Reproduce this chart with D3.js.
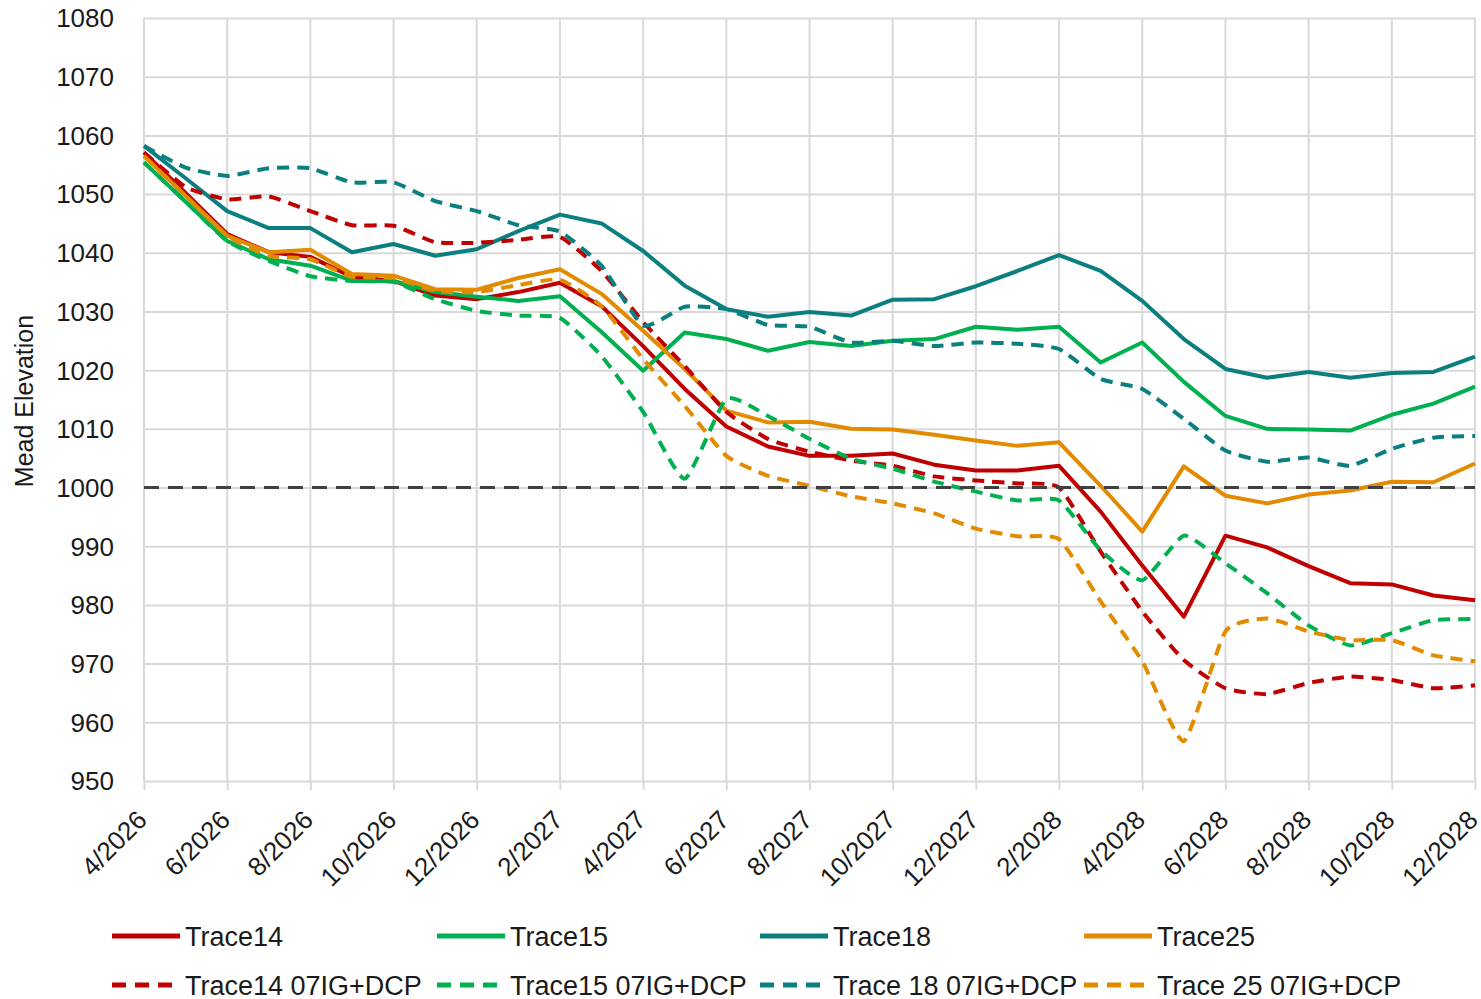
<!DOCTYPE html>
<html>
<head>
<meta charset="utf-8">
<script src="https://cdn.jsdelivr.net/npm/d3@7"></script>
<style>
  body { margin: 0; background: #fff; }
  text { font-family: "Liberation Sans", Arial, sans-serif; fill: #1a1a1a; }
</style>
</head>
<body>
<svg width="1481" height="999"></svg>
<script>
const width = 1481, height = 999;
const svg = d3.select("svg");

// months (4/2026 -> 12/2028)
const months = [
  "4/2026", "5/2026", "6/2026", "7/2026", "8/2026", "9/2026", "10/2026", "11/2026", "12/2026",
  "1/2027", "2/2027", "3/2027", "4/2027", "5/2027", "6/2027", "7/2027", "8/2027", "9/2027",
  "10/2027", "11/2027", "12/2027", "1/2028", "2/2028", "3/2028", "4/2028", "5/2028", "6/2028",
  "7/2028", "8/2028", "9/2028", "10/2028", "11/2028", "12/2028"
];

const trace14 = [1057.1, 1050.2, 1043.2, 1040.1, 1039.3, 1035.9, 1035.2, 1032.7, 1032.1, 1033.3, 1034.9,
  1030.9, 1024.1, 1016.8, 1010.4, 1007.0, 1005.4, 1005.4, 1005.8, 1003.9, 1002.9, 1002.9, 1003.7,
  995.9, 986.7, 978.0, 991.8, 989.8, 986.6, 983.7, 983.5, 981.6, 980.8];
const trace15 = [1055.4, 1048.7, 1042.0, 1038.9, 1037.8, 1035.2, 1035.2, 1033.3, 1032.5, 1031.8, 1032.6,
  1026.5, 1019.9, 1026.4, 1025.3, 1023.3, 1024.8, 1024.1, 1025.0, 1025.3, 1027.4, 1026.9, 1027.4,
  1021.3, 1024.7, 1018.0, 1012.2, 1010.0, 1009.9, 1009.7, 1012.4, 1014.3, 1017.2];
const trace18 = [1058.2, 1052.7, 1047.1, 1044.2, 1044.2, 1040.1, 1041.5, 1039.5, 1040.6, 1043.7, 1046.5,
  1045.0, 1040.3, 1034.4, 1030.4, 1029.1, 1029.9, 1029.3, 1032.0, 1032.1, 1034.3, 1036.9, 1039.6,
  1036.9, 1031.8, 1025.3, 1020.2, 1018.7, 1019.7, 1018.7, 1019.5, 1019.7, 1022.3];
const trace25 = [1056.5, 1049.7, 1042.9, 1040.1, 1040.5, 1036.4, 1036.1, 1033.8, 1033.7, 1035.7, 1037.2,
  1033.0, 1026.7, 1020.2, 1013.1, 1011.1, 1011.2, 1010.0, 1009.9, 1009.0, 1008.0, 1007.1, 1007.7,
  1000.3, 992.5, 1003.6, 998.6, 997.3, 998.8, 999.5, 1001.0, 1000.9, 1004.1];

const trace14dcp = [1057.1, 1051.2, 1049.1, 1049.6, 1047.1, 1044.7, 1044.6, 1041.8, 1041.7, 1042.2, 1042.7,
  1036.9, 1028.2, 1020.7, 1012.9, 1008.3, 1006.1, 1004.6, 1003.7, 1001.9, 1001.2, 1000.7, 1000.0,
  989.1, 978.9, 970.6, 965.8, 964.8, 966.7, 967.8, 967.2, 965.8, 966.3];
const trace15dcp = [1055.4, 1048.7, 1042.0, 1038.6, 1036.0, 1035.2, 1035.0, 1032.1, 1030.1, 1029.3, 1028.9,
  1022.4, 1012.9, 1001.5, 1015.1, 1012.2, 1008.3, 1004.9, 1003.2, 1001.0, 999.3, 997.8, 997.8,
  989.3, 984.2, 991.8, 987.1, 982.0, 976.5, 973.1, 975.2, 977.4, 977.6];
const trace18dcp = [1058.2, 1054.5, 1053.1, 1054.4, 1054.4, 1052.0, 1052.0, 1048.8, 1047.1, 1044.7, 1043.6,
  1037.8, 1027.6, 1030.8, 1030.4, 1027.7, 1027.4, 1024.7, 1025.0, 1024.1, 1024.7, 1024.5, 1023.6,
  1018.5, 1016.8, 1011.7, 1006.3, 1004.4, 1005.1, 1003.7, 1006.6, 1008.5, 1008.8];
const trace25dcp = [1056.5, 1049.7, 1042.9, 1039.5, 1038.9, 1035.9, 1035.7, 1033.5, 1033.3, 1034.5, 1035.4,
  1030.9, 1021.9, 1013.9, 1005.4, 1002.0, 1000.3, 998.5, 997.3, 995.6, 993.0, 991.7, 991.2,
  980.6, 970.4, 956.8, 975.5, 977.7, 975.5, 974.0, 974.0, 971.4, 970.4];

const yTicks = [950, 960, 970, 980, 990, 1000, 1010, 1020, 1030, 1040, 1050, 1060, 1070, 1080];
const threshold = 1000;

const series = [
  { name: "Trace14", values: trace14, color: "#C00000", dashed: false },
  { name: "Trace15", values: trace15, color: "#00B050", dashed: false },
  { name: "Trace18", values: trace18, color: "#0B7F7F", dashed: false },
  { name: "Trace25", values: trace25, color: "#E38B00", dashed: false },
  { name: "Trace14 07IG+DCP", values: trace14dcp, color: "#C00000", dashed: true },
  { name: "Trace15 07IG+DCP", values: trace15dcp, color: "#00B050", dashed: true },
  { name: "Trace 18 07IG+DCP", values: trace18dcp, color: "#0B7F7F", dashed: true },
  { name: "Trace 25 07IG+DCP", values: trace25dcp, color: "#E38B00", dashed: true }
];

const margin = { top: 18, right: 6, bottom: 218, left: 144 };
const w = width - margin.left - margin.right;
const h = height - margin.top - margin.bottom;

const x = d3.scaleLinear().domain([0, months.length - 1]).range([0, w]);
const y = d3.scaleLinear().domain([950, 1080]).range([h, 0]);

const g = svg.append("g").attr("transform", `translate(${margin.left},${margin.top})`);

const xTickIdx = d3.range(0, months.length, 2);

// grille horizontale
g.append("g")
  .call(d3.axisLeft(y).tickValues(yTicks).tickSize(-w).tickFormat(""))
  .call(a => a.select(".domain").remove())
  .selectAll("line").attr("stroke", "#d9d9d9").attr("stroke-width", 2);

// grille verticale + petits ticks sous l'axe
g.append("g")
  .attr("transform", `translate(0,${h})`)
  .call(d3.axisBottom(x).tickValues(xTickIdx).tickSize(9).tickFormat(""))
  .call(a => a.select(".domain").remove())
  .selectAll("line").attr("stroke", "#d9d9d9").attr("stroke-width", 2);

g.selectAll(".vgrid")
  .data(xTickIdx)
  .enter().append("line")
  .attr("x1", d => x(d)).attr("x2", d => x(d))
  .attr("y1", 0).attr("y2", h)
  .attr("stroke", "#d9d9d9").attr("stroke-width", 2);

// Axe Y labels
g.append("g")
  .selectAll("text")
  .data(yTicks)
  .enter().append("text")
  .attr("x", -30)
  .attr("y", d => y(d))
  .attr("dy", "0.36em")
  .attr("text-anchor", "end")
  .style("font-size", "26px")
  .text(d => d);

// Axe X labels (rotation -45)
g.append("g")
  .selectAll("text")
  .data(xTickIdx)
  .enter().append("text")
  .attr("transform", d => `translate(${x(d) - 2},${h + 34}) rotate(-45)`)
  .attr("text-anchor", "end")
  .attr("dy", "0.35em")
  .style("font-size", "26px")
  .text(d => months[d]);

// titre axe Y
svg.append("text")
  .attr("transform", `translate(33,401) rotate(-90)`)
  .attr("text-anchor", "middle")
  .style("font-size", "25px")
  .text("Mead Elevation");

// courbes
const straight = d3.line().x((d, i) => x(i)).y(d => y(d));
const smooth = d3.line().x((d, i) => x(i)).y(d => y(d)).curve(d3.curveCardinal.tension(0.5));

series.forEach(s => {
  g.append("path")
    .datum(s.values)
    .attr("fill", "none")
    .attr("stroke", s.color)
    .attr("stroke-width", 4)
    .attr("stroke-linejoin", "round")
    .attr("stroke-dasharray", s.dashed ? "12,8" : null)
    .attr("d", s.dashed ? smooth : straight);
});

// ligne 1000
g.append("line")
  .attr("x1", 0).attr("x2", w)
  .attr("y1", y(threshold)).attr("y2", y(threshold))
  .attr("stroke", "#404040")
  .attr("stroke-width", 3)
  .attr("stroke-dasharray", "15,9");

// légende
const legendX = [112, 437, 760, 1084];
const legendY = [936, 985];
const legend = svg.append("g");
series.forEach((s, i) => {
  const lx = legendX[i % 4], ly = legendY[Math.floor(i / 4)];
  legend.append("line")
    .attr("x1", lx).attr("x2", lx + 68)
    .attr("y1", ly).attr("y2", ly)
    .attr("stroke", s.color)
    .attr("stroke-width", 5)
    .attr("stroke-dasharray", s.dashed ? "14,9" : null);
  legend.append("text")
    .attr("x", lx + 73)
    .attr("y", ly)
    .attr("dy", "0.36em")
    .style("font-size", "27px")
    .text(s.name);
});
</script>
</body>
</html>
